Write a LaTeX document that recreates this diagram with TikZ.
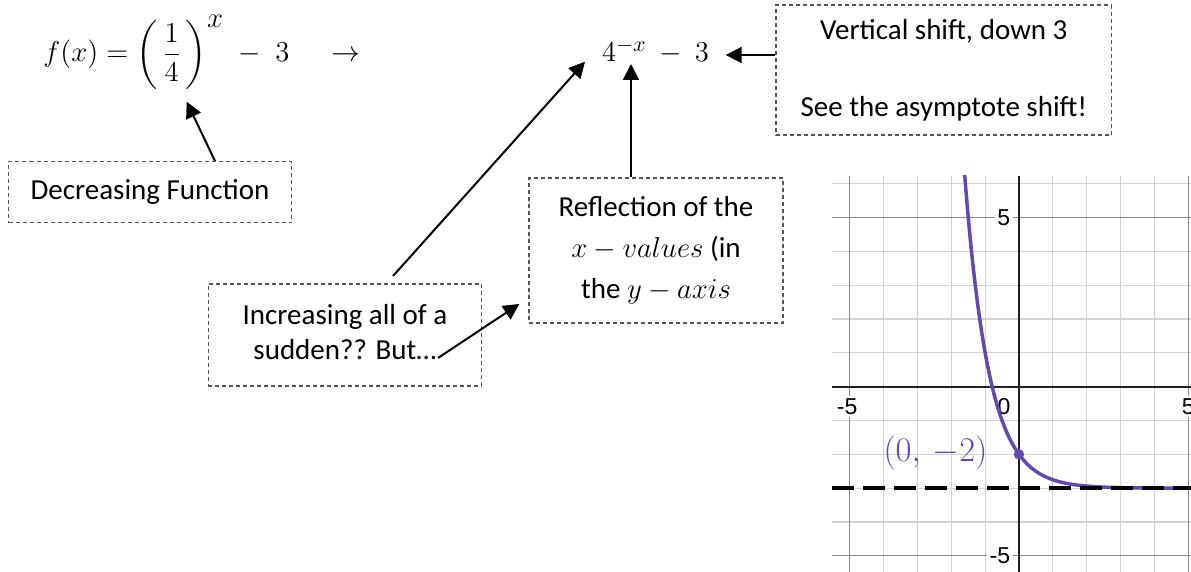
\documentclass[tikz,border=0pt]{standalone}
\usepackage{amsmath}
\usepackage{fontspec}
\setmainfont{Carlito}
\newfontfamily\axisfont{Liberation Sans}
\usetikzlibrary{arrows.meta,calc}
\definecolor{boxgray}{HTML}{555555}
\definecolor{dpurple}{HTML}{6548AE}
\definecolor{gridminor}{HTML}{D2D2D2}
\definecolor{gridmajor}{HTML}{8A8A8A}
\begin{document}
\begin{tikzpicture}[x=0.5pt,y=-0.5pt,
  txt/.style={font=\fontsize{14.5}{17.5}\selectfont, text=black},
  dbox/.style={txt, draw=boxgray, dash pattern=on 2pt off 1.5pt, line width=0.65pt, align=center, inner sep=0pt},
  arr/.style={line width=1pt, -{Triangle[length=8pt,width=8pt]}},
  axislbl/.style={font=\axisfont\fontsize{11.5}{13}\selectfont, fill=white, inner sep=1.2pt},
]
\useasboundingbox (0,0) rectangle (1191,572);

% formulas
\node[anchor=base west, inner sep=0pt, font=\fontsize{14}{17}\selectfont] (f) at (43,62)
  {$f(x)=\left(\,\dfrac{1}{4}\,\right)^{\textstyle x}\mskip5mu-\mskip5mu 3$\hspace{21pt}$\rightarrow$};
\node[anchor=base west, inner sep=0pt, font=\fontsize{15}{18}\selectfont] (g) at (601.7,61.7)
  {$4^{-x}\mskip4mu-\mskip4mu3$};

% boxes
\node[dbox, minimum width=141.5pt, minimum height=30.5pt] (dec) at (150,192.2) {Decreasing Function};
\node[dbox, minimum width=167.8pt, minimum height=65pt, font=\fontsize{14.5}{19.2}\selectfont] (vs) at (943.8,70)
  {Vertical shift, down 3\\[19.2pt]See the asymptote shift!};
\node[dbox, minimum width=127pt, minimum height=72.5pt, font=\fontsize{14.5}{20.5}\selectfont] (refl) at (656,250.5)
  {Reflection of the\\$x-values$ (in\\the $y-axis$};
\node[dbox, minimum width=136.7pt, minimum height=51pt] (inc) at (345,335)
  {\raisebox{-2.5pt}{\begin{tabular}{@{}c@{}}Increasing all of a\\sudden?? But…\end{tabular}}};

% arrow targets
\coordinate (fractip) at (186.7,101.7);
\coordinate (gtip) at (585,61.7);
\coordinate (xtip) at (631,64);
\coordinate (vstip) at (725.7,55);
\coordinate (butend) at (438,358);

% connectors
\draw[arr] ([xshift=32.5pt]dec.north) -- (fractip);
\draw[arr] ([xshift=24pt,yshift=3.65pt]inc.north) -- (gtip);
\draw[arr] (butend) -- ([xshift=-4.5pt,yshift=9.85pt]refl.south west);
\draw[arr] (refl.north -| xtip) -- (xtip);
\draw[arr] ([yshift=7.5pt]vs.west) -- (vstip);

% graph
\begin{scope}[shift={(509.5pt,-193.35pt)}, x=16.915pt, y=16.915pt]
  \clip (-5.54,-5.48) rectangle (5.09,6.23);
  \foreach \i in {-4,...,-1,1,2,3,4} \draw[gridminor, line width=0.6pt] (\i,-5.48) -- (\i,6.23);
  \foreach \j in {-4,...,-1,1,2,3,4,6} \draw[gridminor, line width=0.6pt] (-5.54,\j) -- (5.09,\j);
  \foreach \i in {-5,5} \draw[gridmajor, line width=0.6pt] (\i,-5.48) -- (\i,6.23);
  \foreach \j in {-5,5} \draw[gridmajor, line width=0.6pt] (-5.54,\j) -- (5.09,\j);
  \draw[black!88, line width=1pt] (-5.54,0) -- (5.09,0);
  \draw[black!88, line width=1pt] (0,-5.48) -- (0,6.23);
  \node[axislbl, anchor=east] at (-0.18,5) {5};
  \node[axislbl, anchor=east] at (-0.18,-5) {-5};
  \node[axislbl] at (-5.08,-0.59) {-5};
  \node[axislbl] at (-0.44,-0.59) {0};
  \node[axislbl] at (5.0,-0.59) {5};
  \draw[dpurple, line width=1.75pt, domain=-1.62:5.09, samples=200, smooth] plot (\x, {pow(4,-\x)-3});
  \draw[black, line width=2.2pt, dash pattern=on 11pt off 4.5pt] (-5.54,-3) -- (5.09,-3);
  \fill[dpurple] (0,-2) circle (2.6pt);
  \node[text=dpurple, anchor=east, inner sep=0pt, font=\fontsize{16}{19}\selectfont] at (-0.92,-1.95) {$(0,\,-2)$};
\end{scope}
\end{tikzpicture}
\end{document}
